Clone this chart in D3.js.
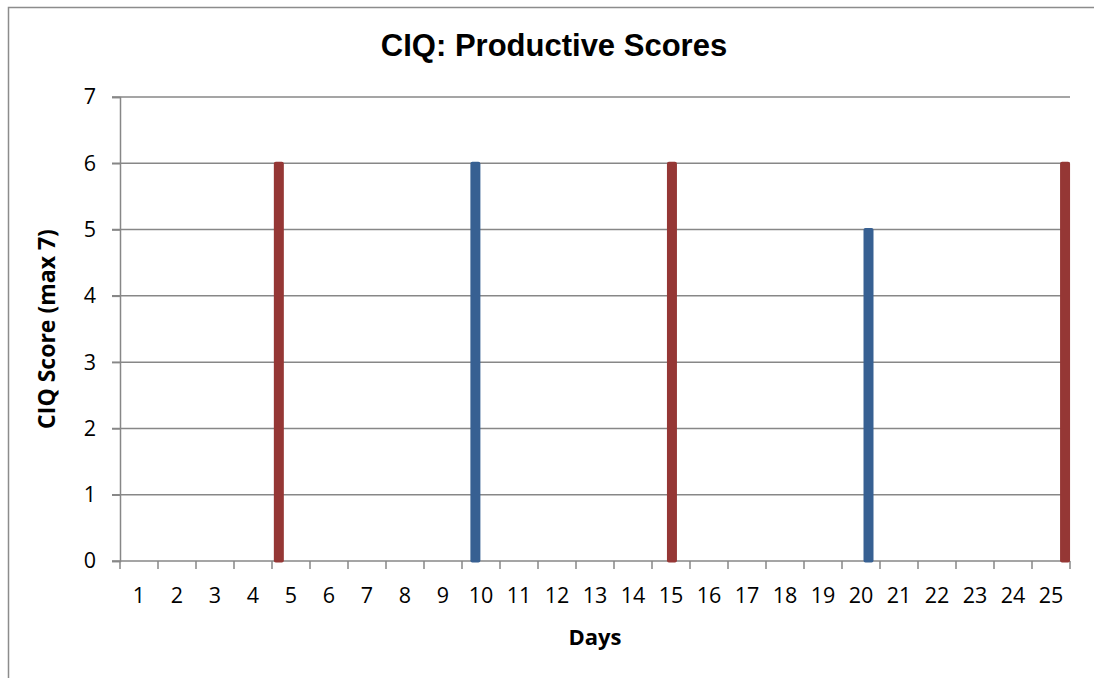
<!DOCTYPE html>
<html>
<head>
<meta charset="utf-8">
<script src="https://cdn.jsdelivr.net/npm/d3@7"></script>
<style>
  html, body { margin: 0; padding: 0; background: #fff; }
  svg { display: block; }
</style>
</head>
<body>
<svg id="chart" width="1094" height="678"></svg>
<script>
// Day categories along the x axis
const days = d3.range(1, 26).map(String);
// Score ticks on the y axis
const scoreTicks = [0, 1, 2, 3, 4, 5, 6, 7];
// One series per scored day (each drawn as its own column series)
const seriesDays = ["5", "10", "15", "20", "25"];
const seriesScores = [6, 6, 6, 5, 6];
const seriesColors = ["#953735", "#376092", "#953735", "#376092", "#953735"];

const svg = d3.select("#chart");
const W = 1094, H = 678;
const plot = { left: 120, right: 1070, top: 97, bottom: 561 };
const labelFont = "'Open Sans', sans-serif";

// outer chart frame
svg.append("rect")
  .attr("x", 8.5).attr("y", 7.5)
  .attr("width", W + 20).attr("height", H + 20)
  .attr("fill", "#fff").attr("stroke", "#8c8c8c").attr("stroke-width", 1.5);

const x = d3.scaleBand().domain(days).range([plot.left, plot.right]).padding(0);
const y = d3.scaleLinear().domain([0, 7]).range([plot.bottom, plot.top]);

// position of each series inside its category band
const seriesPos = d3.scalePoint()
  .domain(d3.range(seriesDays.length))
  .range([x.bandwidth() * 0.18, x.bandwidth() * 0.87]);
const barW = 10;

const gridColor = "#878787";

// horizontal gridlines (with outward tick stubs)
svg.append("g").selectAll("line")
  .data(scoreTicks.filter(d => d > 0))
  .join("line")
  .attr("x1", plot.left - 8).attr("x2", plot.right)
  .attr("y1", d => y(d)).attr("y2", d => y(d))
  .attr("stroke", gridColor).attr("stroke-width", 1.5);

// y axis
const yAxis = svg.append("g")
  .attr("transform", `translate(${plot.left},0)`)
  .call(d3.axisLeft(y).tickValues(scoreTicks).tickFormat(d3.format("d"))
    .tickSize(8).tickPadding(16));
yAxis.select(".domain").attr("stroke", gridColor).attr("stroke-width", 1.5);
yAxis.selectAll(".tick line").attr("stroke", gridColor).attr("stroke-width", 1.5);
yAxis.selectAll("text")
  .attr("font-family", labelFont)
  .attr("font-size", 21.5).attr("fill", "#000");

// x axis with ticks at category boundaries
const xAxis = svg.append("g")
  .attr("transform", `translate(0,${plot.bottom})`);
xAxis.append("line")
  .attr("x1", plot.left - 8).attr("x2", plot.right)
  .attr("stroke", gridColor).attr("stroke-width", 1.5);
xAxis.selectAll("line.tk")
  .data(days.concat(["end"]))
  .join("line").attr("class", "tk")
  .attr("x1", (d, i) => plot.left + i * x.bandwidth())
  .attr("x2", (d, i) => plot.left + i * x.bandwidth())
  .attr("y1", 0).attr("y2", 8)
  .attr("stroke", gridColor).attr("stroke-width", 1.5);
xAxis.selectAll("text")
  .data(days)
  .join("text")
  .attr("x", d => x(d) + x.bandwidth() / 2)
  .attr("y", 42)
  .attr("text-anchor", "middle")
  .attr("font-family", labelFont)
  .attr("font-size", 21.5).attr("fill", "#000")
  .text(d => d);

// columns
svg.append("g").selectAll("rect")
  .data(seriesDays.map((d, i) => ({ day: d, score: seriesScores[i], color: seriesColors[i], i })))
  .join("rect")
  .attr("x", d => x(d.day) + seriesPos(d.i) - barW / 2)
  .attr("y", d => y(d.score) - 1.5)
  .attr("width", barW)
  .attr("height", d => y(0) - y(d.score) + 3)
  .attr("rx", 2)
  .attr("fill", d => d.color);

// title
svg.append("text")
  .attr("x", (plot.left + plot.right) / 2 - 41).attr("y", 56)
  .attr("text-anchor", "middle")
  .attr("font-family", "'Liberation Sans', Arial, sans-serif")
  .attr("font-weight", "bold").attr("font-size", 31)
  .text("CIQ: Productive Scores");

// axis titles
svg.append("text")
  .attr("x", (plot.left + plot.right) / 2).attr("y", 645)
  .attr("text-anchor", "middle")
  .attr("font-family", labelFont)
  .attr("font-weight", "bold").attr("font-size", 22)
  .text("Days");

svg.append("text")
  .attr("transform", `translate(55,${(plot.top + plot.bottom) / 2}) rotate(-90)`)
  .attr("text-anchor", "middle")
  .attr("font-family", labelFont)
  .attr("font-weight", "bold").attr("font-size", 23)
  .text("CIQ Score (max 7)");
</script>
</body>
</html>
